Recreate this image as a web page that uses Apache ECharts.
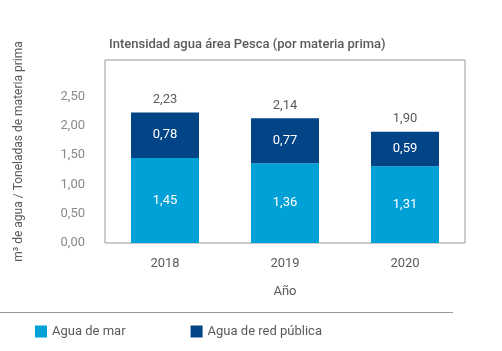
<!DOCTYPE html>
<html>
<head>
<meta charset="utf-8">
<script src="https://cdn.jsdelivr.net/npm/echarts@6/dist/echarts.min.js"></script>
<style>
  body { margin: 0; background: #fff; }
  #chart { width: 502px; height: 351px; }
</style>
</head>
<body>
<div id="chart"></div>
<script>
var years = ["2018", "2019", "2020"];
var aguaMar = [1.45, 1.36, 1.31];
var aguaRed = [0.78, 0.77, 0.59];
var totales = [2.23, 2.14, 1.90];
var yTicks = [0, 0.5, 1, 1.5, 2, 2.5];

var fontFam = "Roboto, sans-serif";
var gris = "#5a5a5a";

function coma(v, d) {
  return v.toFixed(d).replace(".", ",");
}

var chart = echarts.init(document.getElementById("chart"));
chart.setOption({
  animation: false,
  textStyle: { fontFamily: fontFam },
  title: {
    text: "Intensidad agua área Pesca (por materia prima)",
    left: 104,
    top: 33,
    textStyle: { fontFamily: fontFam, fontSize: 13, fontWeight: 500, color: gris }
  },
  grid: {
    left: 105, right: 37, top: 60, bottom: 108,
    show: true, borderColor: "#999", borderWidth: 1
  },
  legend: {
    left: 30,
    top: 320,
    icon: "rect",
    itemWidth: 12,
    itemHeight: 12,
    itemGap: 65,
    data: ["Agua de mar", "Agua de red pública"],
    textStyle: { fontFamily: fontFam, fontSize: 13, color: gris }
  },
  xAxis: {
    type: "category",
    data: years,
    name: "Año",
    nameLocation: "middle",
    nameGap: 42,
    nameTextStyle: { fontFamily: fontFam, fontSize: 13, color: gris },
    axisLine: { show: false },
    axisTick: { show: false },
    axisLabel: { margin: 14, fontSize: 13, color: gris, fontFamily: fontFam }
  },
  yAxis: {
    type: "value",
    min: 0,
    max: 3.125,
    interval: 0.5,
    name: "m³ de agua / Toneladas de materia prima",
    nameLocation: "middle",
    nameGap: 80,
    nameTextStyle: { fontFamily: fontFam, fontSize: 12, color: gris },
    splitLine: { show: false },
    axisLine: { show: false },
    axisTick: { show: false },
    axisLabel: {
      margin: 20,
      fontSize: 13,
      color: "#8a8a8a",
      fontFamily: fontFam,
      formatter: function (v) {
        return yTicks.indexOf(v) >= 0 ? coma(v, 2) : "";
      }
    }
  },
  series: [
    {
      name: "Agua de mar",
      type: "bar",
      stack: "agua",
      barWidth: 68,
      data: aguaMar,
      itemStyle: { color: "#00a1d7" },
      label: {
        show: true, position: "inside", color: "#fff", fontSize: 13, fontFamily: fontFam,
        formatter: function (p) { return coma(p.value, 2); }
      }
    },
    {
      name: "Agua de red pública",
      type: "bar",
      stack: "agua",
      barWidth: 68,
      data: aguaRed,
      itemStyle: { color: "#024587" },
      label: {
        show: true, position: "inside", color: "#fff", fontSize: 13, fontFamily: fontFam,
        formatter: function (p) { return coma(p.value, 2); }
      }
    },
    {
      name: "Total",
      type: "bar",
      stack: "agua",
      barWidth: 68,
      data: [0, 0, 0],
      itemStyle: { color: "transparent" },
      label: {
        show: true, position: "top", distance: 6, color: gris, fontSize: 13, fontFamily: fontFam,
        formatter: function (p) { return coma(totales[p.dataIndex], 2); }
      }
    }
  ],
  graphic: [
    {
      type: "line",
      shape: { x1: 0, y1: 312.5, x2: 453, y2: 312.5 },
      style: { stroke: "#999", lineWidth: 1 }
    }
  ]
});
</script>
</body>
</html>
